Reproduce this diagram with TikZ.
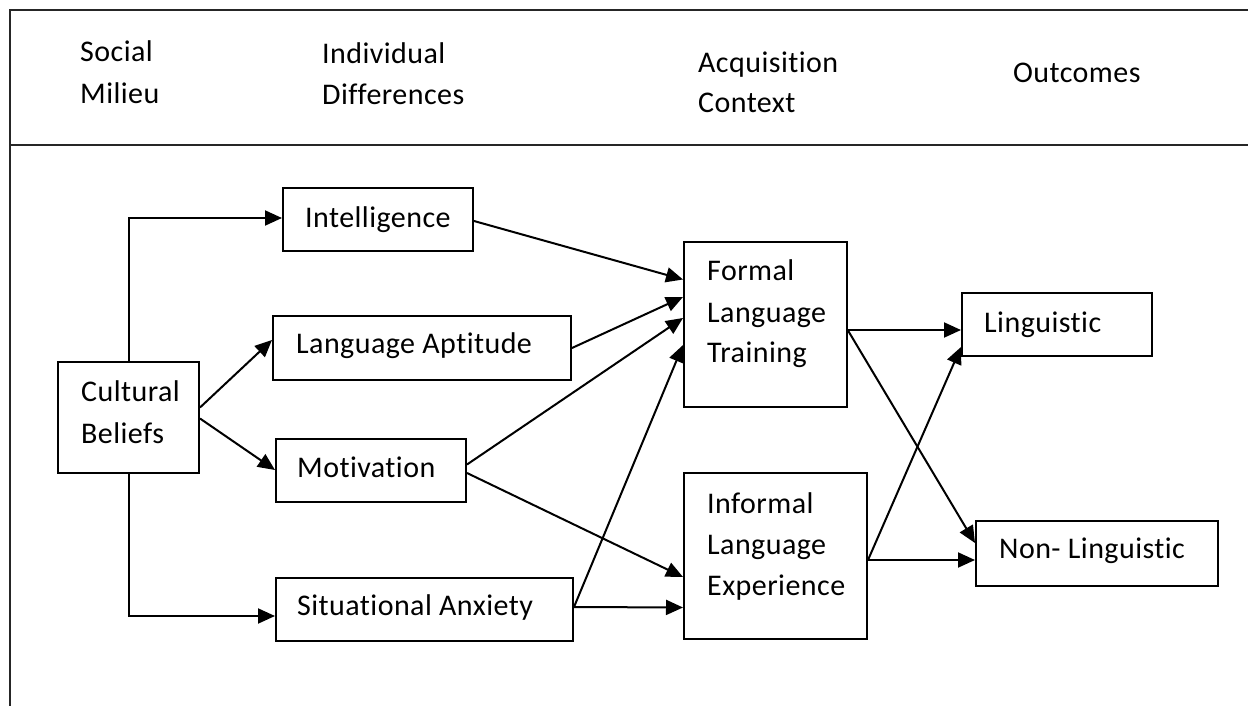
\documentclass[tikz,border=0pt]{standalone}
\usepackage{fontspec}
\setmainfont{Carlito}[Ligatures={NoCommon}, LetterSpace=1.5]
\usetikzlibrary{arrows.meta,calc}
\tikzset{
  box/.style={draw=black, line width=2pt, inner sep=0pt, rectangle},
  lbl/.style={anchor=base west, inner sep=0pt, font=\fontsize{30}{41}\selectfont, align=left},
  arr/.style={draw=black, line width=2pt, -{Triangle[length=17pt,width=15pt]}},
  frame/.style={draw=black!85, line width=2pt}
}
\begin{document}
\begin{tikzpicture}[x=1pt,y=-1pt]
\useasboundingbox (0,0) rectangle (1248,706);
% frame
\coordinate (ftl) at (10,10);
\coordinate (ftr) at (1250,10);
\coordinate (fbl) at (10,708);
\coordinate (fml) at (10,145);
\coordinate (fmr) at (1250,145);
\draw[frame] (fbl) -- (ftl) -- (ftr);
\draw[frame] (fml) -- (fmr);
% header
\node[lbl] (h1a) at (80,62) {Social};
\node[lbl] (h1b) at (80,104) {Milieu};
\node[lbl] (h2a) at (322,64) {Individual};
\node[lbl] (h2b) at (322,105) {Differences};
\node[lbl] (h3a) at (698,73) {Acquisition};
\node[lbl] (h3b) at (698,113) {Context};
\node[lbl] (h4) at (1013,83) {Outcomes};
% boxes
\node[box, minimum width=141pt, minimum height=111pt] (cb) at (128.5,417.5) {};
\node[box, minimum width=190pt, minimum height=63pt] (intel) at (378,219.5) {};
\node[box, minimum width=298pt, minimum height=64pt] (apt) at (422,348) {};
\node[box, minimum width=190pt, minimum height=63pt] (mot) at (371,470.5) {};
\node[box, minimum width=297pt, minimum height=63pt] (anx) at (424.5,609.5) {};
\node[box, minimum width=163pt, minimum height=165pt] (formal) at (765.5,324.5) {};
\node[box, minimum width=183pt, minimum height=166pt] (informal) at (775.5,556) {};
\node[box, minimum width=190pt, minimum height=63pt] (ling) at (1057,324.5) {};
\node[box, minimum width=242pt, minimum height=65pt] (nonling) at (1097,553.5) {};
% box labels
\node[lbl] (tcb1) at (81,401) {Cultural};
\node[lbl] (tcb2) at (81,443) {Beliefs};
\node[lbl] (tintel) at (305,227) {Intelligence};
\node[lbl] (tapt) at (296,353) {Language Aptitude};
\node[lbl] (tmot) at (297,477) {Motivation};
\node[lbl] (tanx) at (297,615) {Situational Anxiety};
\node[lbl] (tf1) at (707,280) {Formal};
\node[lbl] (tf2) at (707,322) {Language};
\node[lbl] (tf3) at (707,362) {Training};
\node[lbl] (ti1) at (707,513) {Informal};
\node[lbl] (ti2) at (707,554) {Language};
\node[lbl] (ti3) at (707,595) {Experience};
\node[lbl] (tling) at (984,332) {Linguistic};
\node[lbl] (tnon) at (999,558) {Non- Linguistic};
% connectors
\draw[arr] (cb.north) |- ($(intel.west)+(0,-1.5)$);
\draw[arr] (cb.south) |- ($(anx.west)+(0,6.5)$);
\draw[arr] ($(cb.east)+(0,-10)$) -- ($(apt.west)+(0,-8)$);
\draw[arr] ($(cb.east)+(0,1)$) -- ($(mot.west)+(0,-0.5)$);
\draw[arr] ($(intel.east)+(0,1.5)$) -- ($(formal.west)+(0,-45)$);
\draw[arr] (apt.east) -- ($(formal.west)+(0,-27.5)$);
\draw[arr] ($(mot.east)+(0,-6)$) -- ($(formal.west)+(0,-6.5)$);
\draw[arr] ($(mot.east)+(0,2.5)$) -- ($(informal.west)+(0,21)$);
\draw[arr] ($(anx.east)+(0,-2.5)$) -- ($(formal.west)+(0,20.5)$);
\draw[arr] ($(anx.east)+(0,-2.5)$) -- ($(informal.west)+(0,51.5)$);
\draw[arr] ($(formal.east)+(0,5.5)$) -- ($(ling.west)+(0,5.5)$);
\draw[arr] ($(formal.east)+(0,6)$) -- ($(nonling.west)+(0,-10.5)$);
\draw[arr] ($(informal.east)+(0,4)$) -- ($(ling.west)+(0,22.5)$);
\draw[arr] ($(informal.east)+(0,4)$) -- ($(nonling.west)+(0,6.5)$);
\end{tikzpicture}
\end{document}
